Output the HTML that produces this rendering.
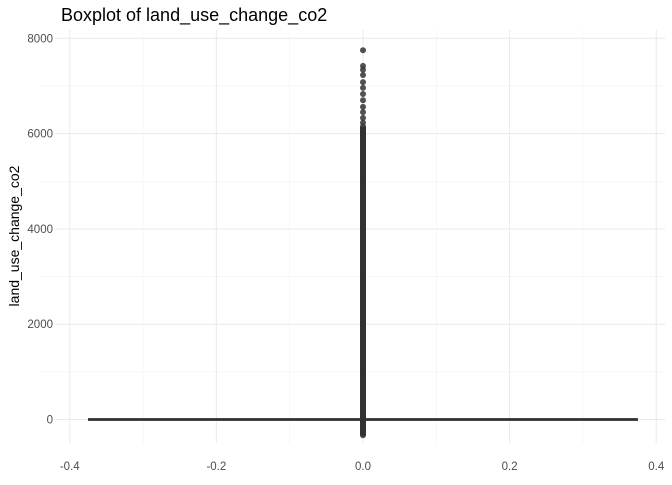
<!DOCTYPE html>
<html><head><meta charset="utf-8"><style>
body{margin:0;background:#fff;}
svg text{font-family:"Liberation Sans",sans-serif;}
</style></head><body>
<svg id="c" width="672" height="480" xmlns="http://www.w3.org/2000/svg">
<text x="61" y="21" font-size="18" fill="#000">Boxplot of land_use_change_co2</text>
<text transform="translate(19,236) rotate(-90)" text-anchor="middle" font-size="14" fill="#000">land_use_change_co2</text>
<g id="grid"></g>
<g id="marks"></g>
<g id="labels"></g>
</svg>
<script>
const xTicks=[-0.4,-0.2,0,0.2,0.4];
const xTickLabels=["-0.4","-0.2","0.0","0.2","0.4"];
const yTicks=[0,2000,4000,6000,8000];
const yTickLabels=["0","2000","4000","6000","8000"];
const boxStats=[0,0,0,0,0]; // min,q1,median,q3,max
const boxHalfWidth=[0.375];
const outlierTop=[7750,7420,7340,7230,7080,6960,6830,6700,6560,6450,6330,6230];
const outlierDense=[6150,6080,6000,5920,5840,5760,5680,5600,5520,5440,5360,5280,5200,5120,5040,4960,4880,4800,4720,4640,4560,4480,4400,4320,4240,4160,4080,4000,3920,3840,3760,3680,3600,3520,3440,3360,3280,3200,3120,3040,2960,2880,2800,2720,2640,2560,2480,2400,2320,2240,2160,2080,2000,1920,1840,1760,1680,1600,1520,1440,1360,1280,1200,1120,1040,960,880,800,720,640,560,480,400,320,240,160,80,-80,-160,-240,-300,-330];
const NS="http://www.w3.org/2000/svg";
const X=v=>363+v*733.1;
const Y=v=>419.5-v*0.04765;
const L=40,R=665,T=30,B=443;
const grid=document.getElementById('grid'),marks=document.getElementById('marks'),labels=document.getElementById('labels');
function mk(tag,a,p){const e=document.createElementNS(NS,tag);for(const k in a)e.setAttribute(k,a[k]);p.appendChild(e);return e;}
for(let i=0;i<xTicks.length-1;i++){const v=(xTicks[i]+xTicks[i+1])/2;const l=mk('line',{x1:X(v),x2:X(v),y1:T,y2:B,stroke:'#f2f2f2','stroke-width':0.6},grid);}
for(let i=0;i<yTicks.length-1;i++){const v=(yTicks[i]+yTicks[i+1])/2;const l=mk('line',{x1:L,x2:R,y1:Y(v),y2:Y(v),stroke:'#f2f2f2','stroke-width':0.6},grid);}
xTicks.forEach((v,i)=>{const l=mk('line',{x1:X(v),x2:X(v),y1:T,y2:B,stroke:'#ebebeb','stroke-width':1.1},grid);
const t=mk('text',{x:X(v),y:470,'text-anchor':'middle','font-size':11.5,fill:'#4d4d4d'},labels);t.textContent=xTickLabels[i];});
yTicks.forEach((v,i)=>{const l=mk('line',{x1:L+15,x2:R,y1:Y(v),y2:Y(v),stroke:'#ebebeb','stroke-width':1.1},grid);
const t=mk('text',{x:53,y:Y(v)+4,'text-anchor':'end','font-size':11.5,fill:'#4d4d4d'},labels);t.textContent=yTickLabels[i];});
const dMax=Math.max(...outlierDense),dMin=Math.min(...outlierDense);
const col=mk('rect',{x:X(0)-3,y:Y(dMax),width:6,height:Y(dMin)-Y(dMax),fill:'#333'},marks);

const pts=outlierTop.concat(outlierDense);
pts.forEach(v=>{const c=mk('circle',{cx:X(0),cy:Y(v),r:3,fill:'#333',opacity:0.85},marks);});
const b=mk('rect',{x:X(-boxHalfWidth[0]),y:Y(boxStats[3])-1.3,width:X(boxHalfWidth[0])-X(-boxHalfWidth[0]),height:Y(boxStats[1])-Y(boxStats[3])+2.6,fill:'#333'},marks);

const m=mk('line',{x1:X(-boxHalfWidth[0]),x2:X(boxHalfWidth[0]),y1:Y(boxStats[2]),y2:Y(boxStats[2]),stroke:'#333','stroke-width':2.5},marks);

</script>
</body></html>
